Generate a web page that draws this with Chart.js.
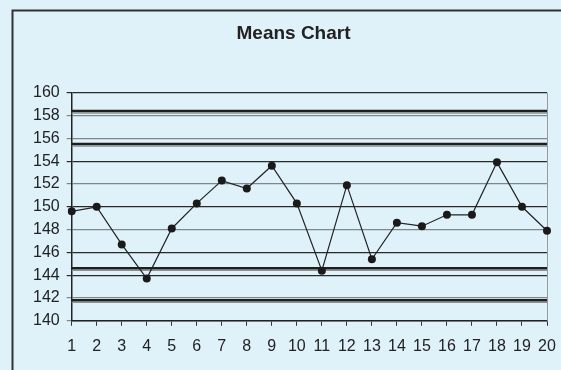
<!DOCTYPE html>
<html>
<head>
<meta charset="utf-8">
<script src="https://cdn.jsdelivr.net/npm/chart.js@4.4.0/dist/chart.umd.min.js"></script>
<style>
    html, body { margin: 0; padding: 0; background: #dff2fa; }
    canvas { display: block; }
</style>
</head>
<body>
<canvas id="means-chart" width="561" height="370"></canvas>
<script>
const samples = ['1', '2', '3', '4', '5', '6', '7', '8', '9', '10', '11', '12', '13', '14', '15', '16', '17', '18', '19', '20'];
const means = [149.6, 150.0, 146.7, 143.7, 148.1, 150.3, 152.3, 151.6, 153.6, 150.3, 144.4, 151.9, 145.4, 148.6, 148.3, 149.3, 149.3, 153.9, 150.0, 147.9];
const limitLines = [158.4, 155.5, 144.6, 141.8];
const yTicks = [140, 142, 144, 146, 148, 150, 152, 154, 156, 158, 160];
const darkGrid = [160, 154, 150, 146, 144];

const frame = {
    id: 'frame',
    beforeDraw(chart) {
        const ctx = chart.ctx;
        ctx.save();
        ctx.fillStyle = '#dff2fa';
        ctx.fillRect(0, 0, chart.width, chart.height);
        ctx.strokeStyle = '#333';
        ctx.lineWidth = 2;
        ctx.beginPath();
        ctx.moveTo(12.5, chart.height);
        ctx.lineTo(12.5, 10.5);
        ctx.lineTo(chart.width, 10.5);
        ctx.stroke();
        ctx.restore();
    },
    beforeDatasetsDraw(chart) {
        const ctx = chart.ctx;
        const area = chart.chartArea;
        const y = chart.scales.y;
        ctx.save();
        // right edge of plot
        ctx.strokeStyle = '#999';
        ctx.lineWidth = 1;
        ctx.beginPath();
        ctx.moveTo(area.right + 0.5, area.top);
        ctx.lineTo(area.right + 0.5, area.bottom);
        ctx.stroke();
        // control limits
        limitLines.forEach(v => {
            const py = y.getPixelForValue(v);
            ctx.strokeStyle = '#8a9296';
            ctx.lineWidth = 1.2;
            ctx.beginPath();
            ctx.moveTo(area.left, py + 2);
            ctx.lineTo(area.right, py + 2);
            ctx.stroke();
            ctx.strokeStyle = '#1e1e1e';
            ctx.lineWidth = 2.5;
            ctx.beginPath();
            ctx.moveTo(area.left, py);
            ctx.lineTo(area.right, py);
            ctx.stroke();
        });
        ctx.restore();
    }
};

const ctx = document.getElementById('means-chart').getContext('2d');
new Chart(ctx, {
    type: 'line',
    data: {
        labels: samples,
        datasets: [{
            label: 'Means',
            data: means,
            borderColor: '#222',
            borderWidth: 1.2,
            backgroundColor: '#1a1a1a',
            pointRadius: 4,
            pointBorderWidth: 0,
            tension: 0,
            fill: false
        }]
    },
    options: {
        responsive: false,
        animation: false,
        layout: {
            padding: { left: 26, right: 0, top: 0, bottom: 3 }
        },
        plugins: {
            legend: { display: false },
            tooltip: { enabled: false },
            title: {
                display: true,
                text: 'Means Chart',
                color: '#222',
                font: { family: 'Liberation Sans, Arial, sans-serif', size: 19, weight: 'bold' },
                padding: { top: 22, bottom: 48 }
            }
        },
        scales: {
            x: {
                offset: false,
                afterFit(scale) {
                    scale.paddingRight = 14;
                },
                grid: {
                    drawOnChartArea: false,
                    drawTicks: true,
                    tickLength: 5,
                    color: '#333'
                },
                border: { color: '#222', width: 1.5 },
                ticks: {
                    color: '#222',
                    padding: 11,
                    maxRotation: 0,
                    autoSkip: false,
                    font: { family: 'Liberation Sans, Arial, sans-serif', size: 16 }
                }
            },
            y: {
                min: 140,
                max: 160,
                afterBuildTicks(scale) {
                    scale.ticks = yTicks.map(v => ({ value: v }));
                },
                grid: {
                    tickLength: 5,
                    lineWidth: 1.2,
                    color: c => darkGrid.includes(c.tick && c.tick.value) ? '#2a2a2a' : '#7f878b'
                },
                border: { color: '#222', width: 1.5 },
                ticks: {
                    color: '#222',
                    padding: 7,
                    font: { family: 'Liberation Sans, Arial, sans-serif', size: 16 }
                }
            }
        }
    },
    plugins: [frame]
});
</script>
</body>
</html>
